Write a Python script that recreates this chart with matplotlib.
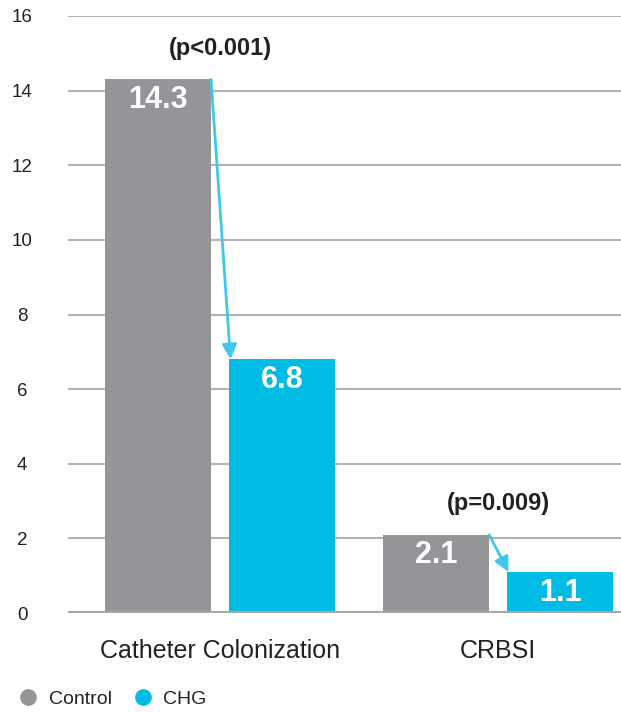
import matplotlib
matplotlib.use('Agg')
import matplotlib.pyplot as plt
from matplotlib.lines import Line2D
import numpy as np

# data
categories = ['Catheter Colonization', 'CRBSI']
control = [14.3, 2.1]
chg = [6.8, 1.1]
p_labels = ['(p<0.001)', '(p=0.009)']
series_names = ['Control', 'CHG']
yticks = [0, 2, 4, 6, 8, 10, 12, 14, 16]

grey = '#939598'
cyan = '#00bce4'
arrow_col = '#3ec8ea'

plt.rcParams['font.family'] = ['Liberation Sans', 'DejaVu Sans']

fig = plt.figure(figsize=(6.21, 7.12), dpi=100)
ax = fig.add_axes([68 / 621, 1 - 613 / 712, 1 - 68 / 621, (613 - 16) / 712])

x = np.arange(len(categories))
w = 0.381
off = 0.223

b1 = ax.bar(x - off, control, w, color=grey, zorder=3)
b2 = ax.bar(x + off, chg, w, color=cyan, zorder=3)

ax.set_ylim(0, 16)
ax.set_xlim(-0.547, 1.442)
ax.set_yticks(yticks)
ax.set_yticklabels([str(t) for t in yticks], ha='center')
ax.tick_params(axis='y', length=0, pad=33, labelsize=13.5, colors='#222222')
ax.set_xticks(x)
ax.set_xticklabels(categories)
ax.tick_params(axis='x', length=0, pad=19, labelsize=18, colors='#222222')

for s in ax.spines.values():
    s.set_visible(False)
ax.yaxis.grid(True, color='#b3b3b3', linewidth=1.5, zorder=0)
ax.axhline(0, color='#a8a8a8', linewidth=3, zorder=4)

# value labels inside the bars
for bars, vals in [(b1, control), (b2, chg)]:
    for rect, v in zip(bars, vals):
        ax.annotate(f'{v}', (rect.get_x() + rect.get_width() / 2, v),
                    xytext=(0, -15), textcoords='offset points',
                    ha='center', va='center', color='white',
                    fontsize=22, fontweight='bold', zorder=5)

# arrows + p values
for i in range(len(categories)):
    x0 = x[i] - off + w / 2
    x1 = x[i] + off - w / 2
    ax.annotate('', xy=(x1 + 0.005, chg[i]), xytext=(x0, control[i]),
                arrowprops=dict(arrowstyle='-|>', color=arrow_col, lw=2,
                                mutation_scale=22, shrinkA=0, shrinkB=0),
                zorder=6)
    ax.annotate(p_labels[i], (x[i], control[i]), xytext=(0, 14),
                textcoords='offset points', ha='center', va='bottom',
                fontsize=17, fontweight='bold', color='#222222')

handles = [Line2D([], [], marker='o', linestyle='', markersize=11,
                  markerfacecolor=c, markeredgecolor=c) for c in (grey, cyan)]
fig.legend(handles, series_names, loc='lower left', bbox_to_anchor=(-0.014, -0.019),
           ncol=2, frameon=False, fontsize=14, handletextpad=0.05,
           columnspacing=0.6, labelcolor='#222222')

fig.savefig('out.png', dpi=100)
